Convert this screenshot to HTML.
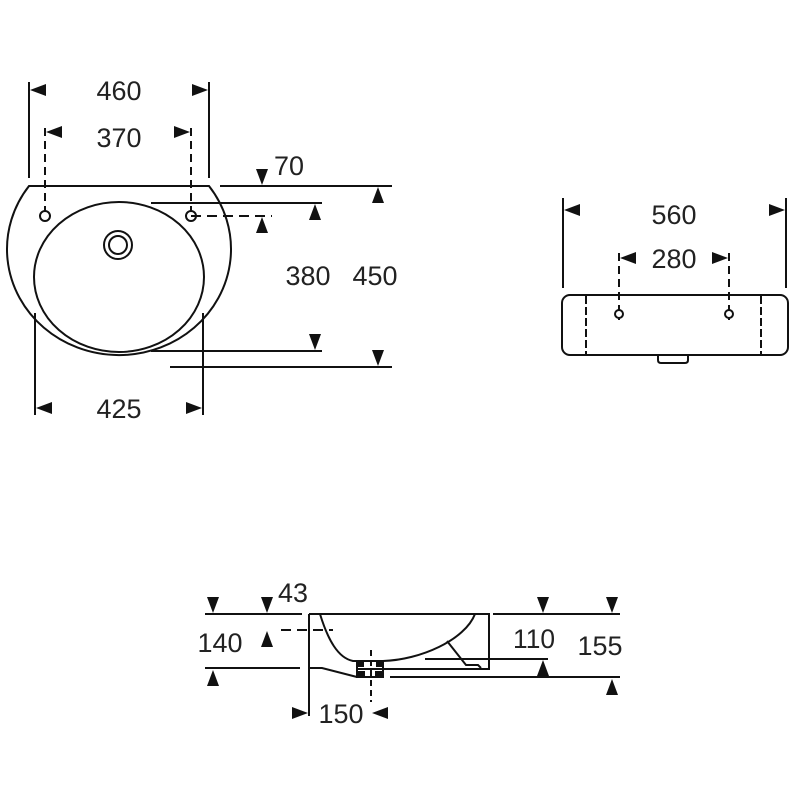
<!DOCTYPE html>
<html><head><style>body{margin:0;background:#fff}svg{display:block}</style></head>
<body>
<svg width="800" height="800" viewBox="0 0 800 800" xmlns="http://www.w3.org/2000/svg" font-family="Liberation Sans, sans-serif" font-size="27" fill="none" stroke="#111" stroke-width="2">
<defs>
<path id="al" d="M0,0 L16,-6 L16,6 Z" fill="#111" stroke="none"/>
</defs>
<g fill="#222" stroke="none" text-anchor="middle">
<text x="119" y="100" textLength="45" lengthAdjust="spacingAndGlyphs">460</text>
<text x="119" y="147" textLength="45" lengthAdjust="spacingAndGlyphs">370</text>
<text x="289" y="175" textLength="30" lengthAdjust="spacingAndGlyphs">70</text>
<text x="308" y="285" textLength="45" lengthAdjust="spacingAndGlyphs">380</text>
<text x="375" y="285" textLength="45" lengthAdjust="spacingAndGlyphs">450</text>
<text x="119" y="418" textLength="45" lengthAdjust="spacingAndGlyphs">425</text>
<text x="674" y="224" textLength="45" lengthAdjust="spacingAndGlyphs">560</text>
<text x="674" y="268" textLength="45" lengthAdjust="spacingAndGlyphs">280</text>
<text x="293" y="602" textLength="30" lengthAdjust="spacingAndGlyphs">43</text>
<text x="220" y="652" textLength="45" lengthAdjust="spacingAndGlyphs">140</text>
<text x="534" y="648" textLength="42" lengthAdjust="spacingAndGlyphs">110</text>
<text x="600" y="655" textLength="45" lengthAdjust="spacingAndGlyphs">155</text>
<text x="341" y="723" textLength="45" lengthAdjust="spacingAndGlyphs">150</text>
</g>
<!-- top view -->
<g>
<line x1="29" y1="82" x2="29" y2="178"/>
<line x1="209" y1="82" x2="209" y2="178"/>
<line x1="35" y1="313" x2="35" y2="415"/>
<line x1="203" y1="313" x2="203" y2="415"/>
<line x1="45" y1="128" x2="45" y2="212" stroke-dasharray="8,5"/>
<line x1="191" y1="128" x2="191" y2="212" stroke-dasharray="8,5"/>
<path d="M29,186 H209 A112,106 0 1 1 29,186 Z"/>
<ellipse cx="119" cy="277" rx="85" ry="75"/>
<circle cx="118" cy="245" r="14"/><circle cx="118" cy="245" r="9"/>
<circle cx="45" cy="216" r="5"/><circle cx="191" cy="216" r="5"/>
<line x1="220" y1="186" x2="392" y2="186"/>
<line x1="151" y1="203" x2="322" y2="203"/>
<line x1="191" y1="216" x2="272" y2="216" stroke-dasharray="10,6"/>
<line x1="151" y1="351" x2="322" y2="351"/>
<line x1="170" y1="367" x2="392" y2="367"/>
</g>
<g>
<use href="#al" transform="translate(30,90)"/>
<use href="#al" transform="translate(208,90) rotate(180)"/>
<use href="#al" transform="translate(46,132)"/>
<use href="#al" transform="translate(190,132) rotate(180)"/>
<use href="#al" transform="translate(36,408)"/>
<use href="#al" transform="translate(202,408) rotate(180)"/>
<use href="#al" transform="translate(262,185) rotate(-90)"/>
<use href="#al" transform="translate(378,187) rotate(90)"/>
<use href="#al" transform="translate(315,204) rotate(90)"/>
<use href="#al" transform="translate(262,217) rotate(90)"/>
<use href="#al" transform="translate(315,350) rotate(-90)"/>
<use href="#al" transform="translate(378,366) rotate(-90)"/>
</g>
<!-- side view -->
<g>
<line x1="563" y1="198" x2="563" y2="288"/>
<line x1="786" y1="198" x2="786" y2="288"/>
<line x1="619" y1="253" x2="619" y2="320" stroke-dasharray="8,5"/>
<line x1="729" y1="253" x2="729" y2="320" stroke-dasharray="8,5"/>
<rect x="562" y="295" width="226" height="60" rx="8"/>
<line x1="586" y1="296" x2="586" y2="354" stroke-dasharray="8,3"/>
<line x1="761" y1="296" x2="761" y2="354" stroke-dasharray="8,3"/>
<circle cx="619" cy="314" r="4" fill="#fff"/><circle cx="729" cy="314" r="4" fill="#fff"/>
<path d="M658,355 V360 Q658,363 661,363 H685 Q688,363 688,360 V355"/>
<use href="#al" transform="translate(564,210)"/>
<use href="#al" transform="translate(785,210) rotate(180)"/>
<use href="#al" transform="translate(620,258)"/>
<use href="#al" transform="translate(728,258) rotate(180)"/>
</g>
<!-- section view -->
<g>
<line x1="205" y1="614" x2="302" y2="614"/>
<line x1="493" y1="614" x2="620" y2="614"/>
<line x1="205" y1="668" x2="300" y2="668"/>
<line x1="309" y1="614" x2="309" y2="716"/>
<path d="M309,614 H489 V669 H383"/>
<path d="M309,668 H322 L357,677"/>
<path d="M320,614 C328,640 338,658 353,661 H358"/>
<path d="M475,614 C465,640 420,660 383,661"/>
<line x1="281" y1="630" x2="333" y2="630" stroke-dasharray="10,6"/>
<rect x="357" y="661" width="26" height="16"/>
<rect x="357" y="672" width="7" height="5" fill="#111"/>
<rect x="376" y="672" width="7" height="5" fill="#111"/>
<rect x="357" y="661" width="6" height="5" fill="#111"/>
<rect x="377" y="661" width="6" height="5" fill="#111"/>
<line x1="371" y1="650" x2="371" y2="702" stroke-dasharray="6,4"/>
<line x1="357" y1="669" x2="383" y2="669"/>
<path d="M447,641 L466,665 H478 L481,668"/>
<line x1="425" y1="659" x2="548" y2="659"/>
<line x1="390" y1="677" x2="620" y2="677"/>
<use href="#al" transform="translate(213,613) rotate(-90)"/>
<use href="#al" transform="translate(267,613) rotate(-90)"/>
<use href="#al" transform="translate(543,613) rotate(-90)"/>
<use href="#al" transform="translate(612,613) rotate(-90)"/>
<use href="#al" transform="translate(267,631) rotate(90)"/>
<use href="#al" transform="translate(213,670) rotate(90)"/>
<use href="#al" transform="translate(543,660) rotate(90)"/>
<use href="#al" transform="translate(612,679) rotate(90)"/>
<use href="#al" transform="translate(308,713) rotate(180)"/>
<use href="#al" transform="translate(372,713)"/>
</g>
</svg>
</body></html>
